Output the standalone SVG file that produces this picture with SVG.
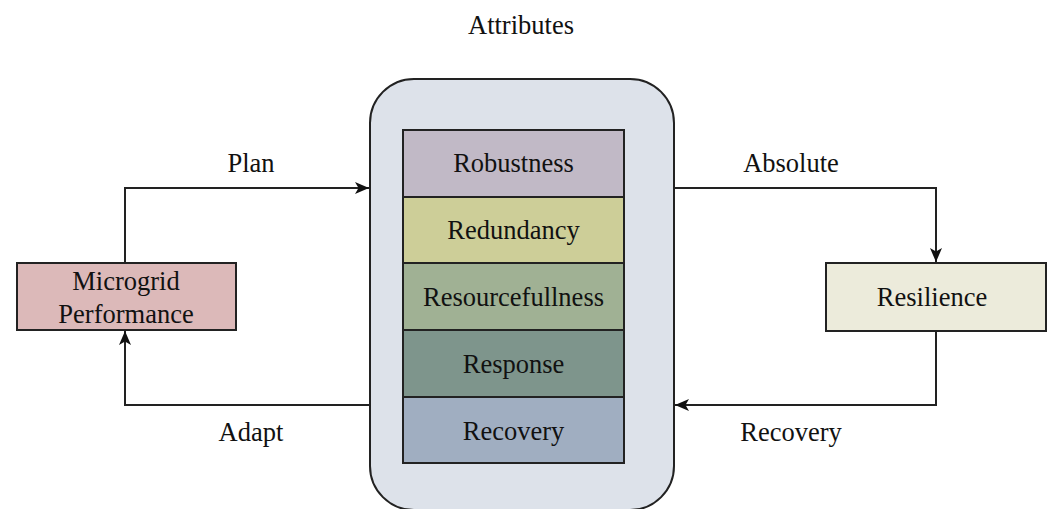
<svg xmlns="http://www.w3.org/2000/svg" width="1051" height="509" viewBox="0 0 1051 509">
  <style>
    text { font-family: "Liberation Serif", "Times New Roman", serif; font-size: 26.5px; fill: #111; text-anchor: middle; dominant-baseline: central; }
    .box { stroke: #222; stroke-width: 2; }
    .link { fill: none; stroke: #222; stroke-width: 2; }
  </style>
  <defs>
    <marker id="arrow" viewBox="0 0 14 12" refX="14" refY="6" markerWidth="14" markerHeight="12" markerUnits="userSpaceOnUse" orient="auto">
      <path d="M0,0 L14,6 L0,12 L3.5,6 Z" fill="#111"/>
    </marker>
  </defs>
  <rect width="1051" height="509" fill="#ffffff"/>

  <text x="521" y="25">Attributes</text>

  <g id="attributes">
    <rect x="370" y="79" width="304" height="431" rx="44" ry="44" fill="#dde2ea" stroke="#222" stroke-width="2"/>
  </g>
  <g id="robustness">
    <rect class="box" x="403" y="130" width="221" height="67" fill="#c1b9c6"/>
    <text x="513.5" y="163">Robustness</text>
  </g>
  <g id="redundancy">
    <rect class="box" x="403" y="197" width="221" height="66" fill="#cdce98"/>
    <text x="513.5" y="230">Redundancy</text>
  </g>
  <g id="resourcefullness">
    <rect class="box" x="403" y="263" width="221" height="67" fill="#a0b194"/>
    <text x="513.5" y="297">Resourcefullness</text>
  </g>
  <g id="response">
    <rect class="box" x="403" y="330" width="221" height="67" fill="#7e958c"/>
    <text x="513.5" y="364">Response</text>
  </g>
  <g id="recovery-attr">
    <rect class="box" x="403" y="397" width="221" height="66" fill="#a0aec1"/>
    <text x="513.5" y="431">Recovery</text>
  </g>

  <g id="microgrid">
    <rect class="box" x="17" y="263" width="219" height="67" fill="#dcb9b9"/>
    <text x="126" y="281">Microgrid</text>
    <text x="126" y="314">Performance</text>
  </g>
  <g id="resilience">
    <rect class="box" x="826" y="263" width="220" height="68" fill="#ecebdb"/>
    <text x="932" y="297">Resilience</text>
  </g>

  <g id="connectors">
    <path class="link" d="M125,263 V188 H369" marker-end="url(#arrow)"/>
    <path class="link" d="M370,405 H125 V331" marker-end="url(#arrow)"/>
    <path class="link" d="M674,188 H936 V262" marker-end="url(#arrow)"/>
    <path class="link" d="M936,331 V405 H675" marker-end="url(#arrow)"/>
    <text x="251" y="163">Plan</text>
    <text x="251" y="432">Adapt</text>
    <text x="791" y="163">Absolute</text>
    <text x="791" y="432">Recovery</text>
  </g>
</svg>
